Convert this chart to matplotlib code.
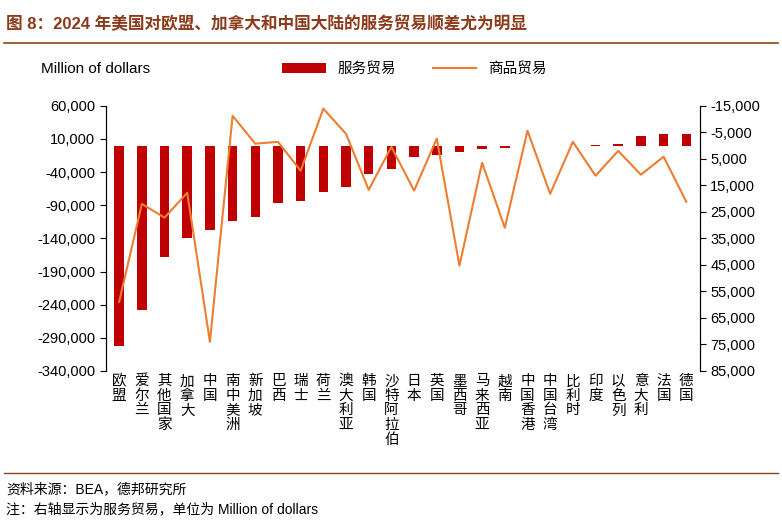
import matplotlib.pyplot as plt
import numpy as np

plt.rcParams['font.family'] = ['Liberation Sans', 'Noto Sans CJK SC', 'DejaVu Sans']

countries = ['欧盟', '爱尔兰', '其他国家', '加拿大', '中国', '南中美洲', '新加坡', '巴西', '瑞士', '荷兰',
             '澳大利亚', '韩国', '沙特阿拉伯', '日本', '英国', '墨西哥', '马来西亚', '越南', '中国香港',
             '中国台湾', '比利时', '印度', '以色列', '意大利', '法国', '德国']
services = [-302000, -248000, -168000, -140000, -127000, -114000, -108000, -87000, -84000, -70000,
            -62000, -43000, -35000, -17000, -14000, -10000, -5000, -4000, -1000,
            0, 0, 1000, 2000, 14000, 17000, 17000]
goods = [58900, 22000, 27200, 17800, 74000, -11200, -700, -1400, 9500, -13900,
         -4400, 16700, 500, 17000, -2600, 45300, 6500, 31000, -5600,
         18200, -1400, 11400, 2000, 11000, 4200, 21200]

red = '#C00000'
orange = '#ED7D31'
brown = '#8B4513'

fig = plt.figure(figsize=(7.82, 5.21), dpi=100)
ax = fig.add_axes([0.135, 0.288, 0.76, 0.509])
x = np.arange(len(countries))
ax.bar(x, services, width=0.42, color=red, label='服务贸易', zorder=2)
ax.set_ylim(-340000, 60000)
ax.set_yticks(np.arange(-340000, 60001, 50000))
ax.set_yticklabels([f'{v:,}' for v in range(-340000, 60001, 50000)], fontsize=10.5)
ax.set_xlim(-0.6, len(countries) - 0.4)
ax.set_xticks([])
for s in ['top', 'bottom']:
    ax.spines[s].set_visible(False)
ax.tick_params(axis='y', direction='out', length=4)
for i, c in enumerate(countries):
    ax.text(i, -345000, '\n'.join(c), ha='center', va='top', fontsize=10.5, linespacing=1.05)

ax2 = ax.twinx()
ax2.plot(x, goods, color=orange, lw=1.5, label='商品贸易')
ax2.set_ylim(85000, -15000)
ticks = np.arange(-15000, 85001, 10000)
ax2.set_yticks(ticks)
ax2.set_yticklabels([f'{v:,}' for v in ticks], fontsize=10.5)
for s in ['top', 'bottom']:
    ax2.spines[s].set_visible(False)
ax2.tick_params(axis='y', direction='out', length=4)

h1, l1 = ax.get_legend_handles_labels()
h2, l2 = ax2.get_legend_handles_labels()
fig.legend(h1 + h2, l1 + l2, loc='center', bbox_to_anchor=(0.53, 0.868), ncol=2, frameon=False,
           fontsize=10.5, handlelength=3, columnspacing=2.5)
fig.text(0.052, 0.868, 'Million of dollars', fontsize=11, va='center')

fig.text(0.008, 0.955, '图 8：2024 年美国对欧盟、加拿大和中国大陆的服务贸易顺差尤为明显', fontsize=12,
         fontweight='bold', color='#8B3A1A', va='center')
fig.add_artist(plt.Line2D([0.005, 0.995], [0.918, 0.918], color=brown, lw=1.2))
fig.add_artist(plt.Line2D([0.005, 0.995], [0.093, 0.093], color=brown, lw=1))
fig.text(0.008, 0.06, '资料来源：BEA，德邦研究所', fontsize=10, va='center')
fig.text(0.008, 0.022, '注：右轴显示为服务贸易，单位为 Million of dollars', fontsize=10, va='center')

fig.savefig('out.png', dpi=100)
